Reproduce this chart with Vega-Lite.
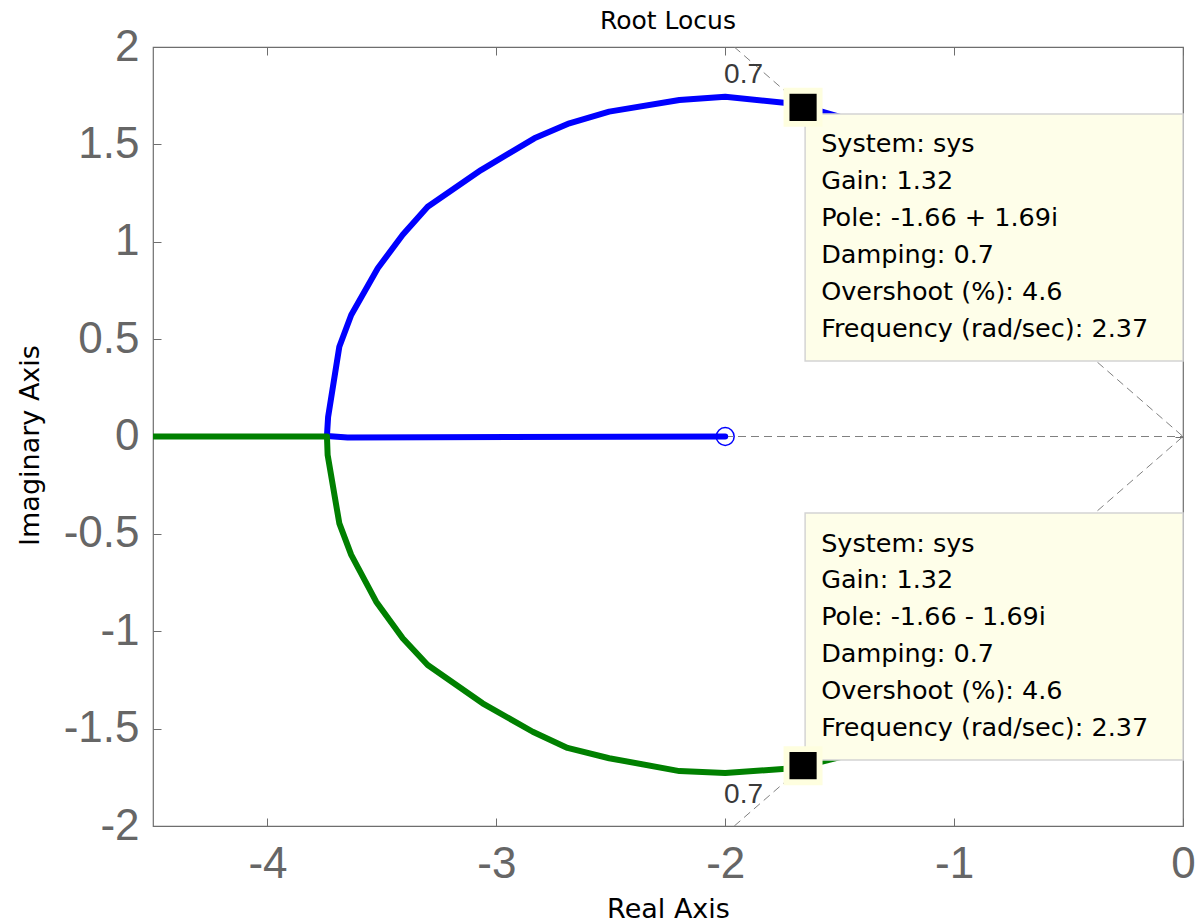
{
  "$schema": "https://vega.github.io/schema/vega-lite/v6.json",
  "width": 1030,
  "height": 779,
  "autosize": "none",
  "padding": {"left": 153, "top": 47, "right": 21, "bottom": 97},
  "background": "white",
  "title": {"text": "Root Locus", "font": "DejaVu Sans", "fontSize": 25, "fontWeight": "normal", "color": "#000000", "anchor": "middle", "baseline": "alphabetic", "offset": -29},
  "config": {"view": {"stroke": "#6e6e6e", "strokeWidth": 1.2}},
  "datasets": {
    "grid": [
      {"g": "a", "x": 0, "y": 0}, {"g": "a", "x": -1.9604, "y": 2},
      {"g": "b", "x": 0, "y": 0}, {"g": "b", "x": -1.9604, "y": -2},
      {"g": "c", "x": -4.5, "y": 0}, {"g": "c", "x": 0, "y": 0}
    ],
    "locus": [
      {"s": "blue", "i": 0, "x": -1.2, "y": 1.5},
      {"s": "blue", "i": 1, "x": -1.45, "y": 1.625},
      {"s": "blue", "i": 2, "x": -1.69, "y": 1.707},
      {"s": "blue", "i": 3, "x": -2.0, "y": 1.745},
      {"s": "blue", "i": 4, "x": -2.2, "y": 1.728},
      {"s": "blue", "i": 5, "x": -2.507, "y": 1.668},
      {"s": "blue", "i": 6, "x": -2.681, "y": 1.608},
      {"s": "blue", "i": 7, "x": -2.834, "y": 1.531},
      {"s": "blue", "i": 8, "x": -3.067, "y": 1.368},
      {"s": "blue", "i": 9, "x": -3.3, "y": 1.18},
      {"s": "blue", "i": 10, "x": -3.409, "y": 1.036},
      {"s": "blue", "i": 11, "x": -3.518, "y": 0.864},
      {"s": "blue", "i": 12, "x": -3.634, "y": 0.624},
      {"s": "blue", "i": 13, "x": -3.686, "y": 0.461},
      {"s": "blue", "i": 14, "x": -3.735, "y": 0.1},
      {"s": "blue", "i": 15, "x": -3.74, "y": 0.003},
      {"s": "blue", "i": 16, "x": -3.65, "y": -0.005},
      {"s": "blue", "i": 17, "x": -2.0, "y": 0.0},
      {"s": "green", "i": 0, "x": -1.2, "y": -1.5},
      {"s": "green", "i": 1, "x": -1.458, "y": -1.635},
      {"s": "green", "i": 2, "x": -1.69, "y": -1.702},
      {"s": "green", "i": 3, "x": -2.0, "y": -1.728},
      {"s": "green", "i": 4, "x": -2.2, "y": -1.718},
      {"s": "green", "i": 5, "x": -2.507, "y": -1.652},
      {"s": "green", "i": 6, "x": -2.689, "y": -1.599},
      {"s": "green", "i": 7, "x": -2.841, "y": -1.516},
      {"s": "green", "i": 8, "x": -3.06, "y": -1.37},
      {"s": "green", "i": 9, "x": -3.3, "y": -1.173},
      {"s": "green", "i": 10, "x": -3.409, "y": -1.036},
      {"s": "green", "i": 11, "x": -3.525, "y": -0.848},
      {"s": "green", "i": 12, "x": -3.634, "y": -0.608},
      {"s": "green", "i": 13, "x": -3.686, "y": -0.446},
      {"s": "green", "i": 14, "x": -3.737, "y": -0.095},
      {"s": "green", "i": 15, "x": -3.74, "y": 0.0},
      {"s": "green", "i": 16, "x": -4.6, "y": 0.0}
    ],
    "zero": [{"x": -2, "y": 0}],
    "damp": [
      {"x": -1.92, "y": 1.856, "t": "0.7"},
      {"x": -1.92, "y": -1.841, "t": "0.7"}
    ],
    "boxes": [
      {"x": -1.651, "x2": 0, "y": 1.656, "y2": 0.388},
      {"x": -1.651, "x2": 0, "y": -0.393, "y2": -1.661}
    ],
    "tips": [
      {"x": -1.581, "y": 1.462, "t": "System: sys"},
      {"x": -1.581, "y": 1.273, "t": "Gain: 1.32"},
      {"x": -1.581, "y": 1.083, "t": "Pole: -1.66 + 1.69i"},
      {"x": -1.581, "y": 0.893, "t": "Damping: 0.7"},
      {"x": -1.581, "y": 0.703, "t": "Overshoot (%): 4.6"},
      {"x": -1.581, "y": 0.513, "t": "Frequency (rad/sec): 2.37"},
      {"x": -1.581, "y": -0.592, "t": "System: sys"},
      {"x": -1.581, "y": -0.780, "t": "Gain: 1.32"},
      {"x": -1.581, "y": -0.970, "t": "Pole: -1.66 - 1.69i"},
      {"x": -1.581, "y": -1.160, "t": "Damping: 0.7"},
      {"x": -1.581, "y": -1.350, "t": "Overshoot (%): 4.6"},
      {"x": -1.581, "y": -1.540, "t": "Frequency (rad/sec): 2.37"}
    ],
    "markers": [
      {"x": -1.66, "y": 1.69},
      {"x": -1.66, "y": -1.69}
    ]
  },
  "resolve": {"axis": {"x": "independent", "y": "independent"}},
  "layer": [
    {
      "data": {"name": "grid"},
      "mark": {"type": "line", "stroke": "#808080", "strokeWidth": 1, "strokeDash": [8, 5], "clip": true},
      "encoding": {
        "detail": {"field": "g", "type": "nominal"},
        "x": {"field": "x", "type": "quantitative", "scale": {"domain": [-4.5, 0], "nice": false, "zero": false},
          "axis": {"orient": "bottom", "values": [-4, -3, -2, -1, 0], "labelExpr": "'' + datum.value", "domain": false, "grid": false,
            "tickSize": -8, "tickColor": "#6e6e6e", "tickWidth": 1, "labelFont": "Liberation Sans", "labelFontSize": 44, "labelColor": "#666666",
            "labelPadding": 24, "labelFlush": false, "labelOverlap": false,
            "title": "Real Axis", "titleFont": "DejaVu Sans", "titleFontSize": 27, "titleFontWeight": "normal", "titleColor": "#000000",
            "titleBaseline": "alphabetic", "titleY": 91}},
        "y": {"field": "y", "type": "quantitative", "scale": {"domain": [-2, 2], "nice": false, "zero": false},
          "axis": {"orient": "left", "values": [-2, -1.5, -1, -0.5, 0, 0.5, 1, 1.5, 2], "labelExpr": "'' + datum.value", "domain": false, "grid": false,
            "tickSize": -8, "tickColor": "#6e6e6e", "tickWidth": 1, "labelFont": "Liberation Sans", "labelFontSize": 44, "labelColor": "#666666",
            "labelPadding": 22, "labelFlush": false, "labelOverlap": false,
            "title": "Imaginary Axis", "titleFont": "DejaVu Sans", "titleFontSize": 27, "titleFontWeight": "normal", "titleColor": "#000000",
            "titleBaseline": "middle", "titleX": -123, "titleY": 398}}
      }
    },
    {
      "data": {"name": "locus"},
      "mark": {"type": "line", "strokeWidth": 6, "strokeCap": "round", "strokeJoin": "round", "clip": true},
      "encoding": {
        "detail": {"field": "s", "type": "nominal"},
        "order": {"field": "i", "type": "quantitative"},
        "color": {"field": "s", "type": "nominal", "scale": {"domain": ["blue", "green"], "range": ["#0000ff", "#008000"]}, "legend": null},
        "x": {"field": "x", "type": "quantitative", "scale": {"domain": [-4.5, 0], "nice": false, "zero": false},
          "axis": {"orient": "top", "values": [-4, -3, -2, -1, 0], "labels": false, "domain": false, "grid": false, "tickSize": -8, "tickColor": "#6e6e6e", "tickWidth": 1, "title": null}},
        "y": {"field": "y", "type": "quantitative", "scale": {"domain": [-2, 2], "nice": false, "zero": false},
          "axis": {"orient": "right", "values": [-2, -1.5, -1, -0.5, 0, 0.5, 1, 1.5, 2], "labels": false, "domain": false, "grid": false, "tickSize": -8, "tickColor": "#6e6e6e", "tickWidth": 1, "title": null}}
      }
    },
    {
      "data": {"name": "zero"},
      "mark": {"type": "point", "shape": "circle", "filled": false, "stroke": "#0000ff", "strokeWidth": 1.5, "size": 320, "opacity": 1},
      "encoding": {
        "x": {"field": "x", "type": "quantitative", "scale": {"domain": [-4.5, 0], "nice": false, "zero": false}, "axis": null},
        "y": {"field": "y", "type": "quantitative", "scale": {"domain": [-2, 2], "nice": false, "zero": false}, "axis": null}
      }
    },
    {
      "data": {"name": "damp"},
      "mark": {"type": "text", "font": "Liberation Sans", "fontSize": 28, "color": "#3a3a3a", "align": "center", "baseline": "middle"},
      "encoding": {
        "text": {"field": "t"},
        "x": {"field": "x", "type": "quantitative", "scale": {"domain": [-4.5, 0], "nice": false, "zero": false}, "axis": null},
        "y": {"field": "y", "type": "quantitative", "scale": {"domain": [-2, 2], "nice": false, "zero": false}, "axis": null}
      }
    },
    {
      "data": {"name": "boxes"},
      "mark": {"type": "rect", "fill": "#fefee9", "stroke": "#d4d4d4", "strokeWidth": 1.5},
      "encoding": {
        "x": {"field": "x", "type": "quantitative", "scale": {"domain": [-4.5, 0], "nice": false, "zero": false}, "axis": null},
        "x2": {"field": "x2"},
        "y": {"field": "y", "type": "quantitative", "scale": {"domain": [-2, 2], "nice": false, "zero": false}, "axis": null},
        "y2": {"field": "y2"}
      }
    },
    {
      "data": {"name": "tips"},
      "mark": {"type": "text", "font": "DejaVu Sans", "fontSize": 25.5, "color": "#000000", "align": "left", "baseline": "alphabetic"},
      "encoding": {
        "text": {"field": "t"},
        "x": {"field": "x", "type": "quantitative", "scale": {"domain": [-4.5, 0], "nice": false, "zero": false}, "axis": null},
        "y": {"field": "y", "type": "quantitative", "scale": {"domain": [-2, 2], "nice": false, "zero": false}, "axis": null}
      }
    },
    {
      "data": {"name": "markers"},
      "mark": {"type": "point", "shape": "square", "filled": true, "color": "#fefedf", "size": 1521, "opacity": 1},
      "encoding": {
        "x": {"field": "x", "type": "quantitative", "scale": {"domain": [-4.5, 0], "nice": false, "zero": false}, "axis": null},
        "y": {"field": "y", "type": "quantitative", "scale": {"domain": [-2, 2], "nice": false, "zero": false}, "axis": null}
      }
    },
    {
      "data": {"name": "markers"},
      "mark": {"type": "point", "shape": "square", "filled": true, "color": "#000000", "size": 740, "opacity": 1},
      "encoding": {
        "x": {"field": "x", "type": "quantitative", "scale": {"domain": [-4.5, 0], "nice": false, "zero": false}, "axis": null},
        "y": {"field": "y", "type": "quantitative", "scale": {"domain": [-2, 2], "nice": false, "zero": false}, "axis": null}
      }
    }
  ]
}
